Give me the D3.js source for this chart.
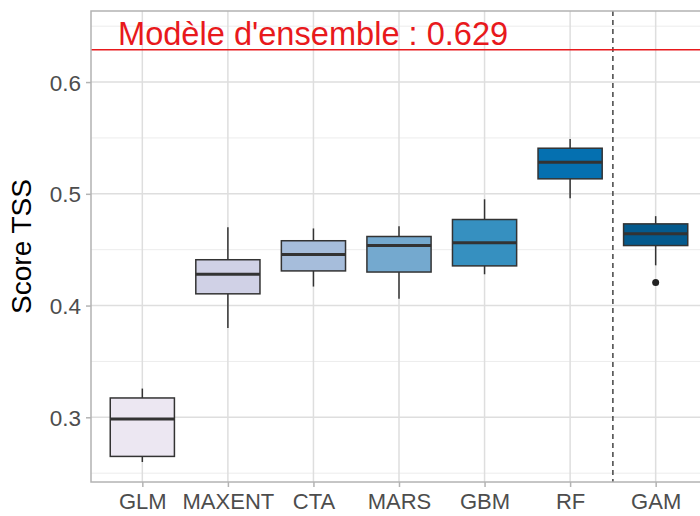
<!DOCTYPE html>
<html><head><meta charset="utf-8">
<script src="https://cdn.jsdelivr.net/npm/d3@7"></script>
<style>body{margin:0;background:#fff}svg{display:block}text{font-family:"Liberation Sans",Arial,sans-serif}</style>
</head><body><svg id="c" width="700" height="516"></svg>
<script>
const categories = ["GLM","MAXENT","CTA","MARS","GBM","RF","GAM"];
const whiskerLow  = [0.260,0.380,0.417,0.406,0.428,0.496,0.436];
const q1          = [0.265,0.4105,0.431,0.430,0.4355,0.5134,0.4537];
const medians     = [0.2985,0.428,0.4457,0.4537,0.4561,0.5283,0.4642];
const q3          = [0.3173,0.441,0.458,0.4618,0.477,0.5408,0.4731];
const whiskerHigh = [0.3257,0.470,0.469,0.471,0.4951,0.549,0.480];
const outliers    = [[],[],[],[],[],[],[0.4206]];
const fills = ["#ece7f2","#d0d1e6","#a6bddb","#74a9cf","#3690c0","#0570b0","#045a8d"];
const yTicks = [0.3,0.4,0.5,0.6];
const yMinor = [0.25,0.35,0.45,0.55,0.65];
const ensembleValue = 0.629;
const ensembleLabel = "Modèle d'ensemble : 0.629";
const separatorBetween = ["RF","GAM"];

const svg = d3.select("#c");
const L = 91, R = 707, T = 11, B = 482;
const x = d3.scalePoint().domain(categories).range([L,R]).padding(0.6);
const y = d3.scaleLinear().domain([0.2421,0.6636]).range([B,T]);
const step = x.step();
const bw = step*0.75;

const g = svg.append("g");
g.append("defs").append("clipPath").attr("id","clip").append("rect")
  .attr("x",L).attr("y",T).attr("width",R-L).attr("height",B-T);
const panel = g.append("g").attr("clip-path","url(#clip)");

panel.selectAll(".ymin").data(yMinor).join("line")
  .attr("x1",L).attr("x2",R).attr("y1",d=>y(d)).attr("y2",d=>y(d))
  .attr("stroke","#ececec").attr("stroke-width",1);
panel.selectAll(".ymaj").data(yTicks).join("line")
  .attr("x1",L).attr("x2",R).attr("y1",d=>y(d)).attr("y2",d=>y(d))
  .attr("stroke","#dedede").attr("stroke-width",1.5);
panel.selectAll(".xmaj").data(categories).join("line")
  .attr("x1",d=>x(d)).attr("x2",d=>x(d)).attr("y1",T).attr("y2",B)
  .attr("stroke","#dedede").attr("stroke-width",1.5);

const data = categories.map((c,i)=>({c,lo:whiskerLow[i],q1:q1[i],med:medians[i],q3:q3[i],hi:whiskerHigh[i],out:outliers[i],fill:fills[i]}));
const bx = panel.selectAll(".box").data(data).join("g");
bx.append("line").attr("x1",d=>x(d.c)).attr("x2",d=>x(d.c)).attr("y1",d=>y(d.hi)).attr("y2",d=>y(d.q3))
  .attr("stroke","#333").attr("stroke-width",1.5);
bx.append("line").attr("x1",d=>x(d.c)).attr("x2",d=>x(d.c)).attr("y1",d=>y(d.q1)).attr("y2",d=>y(d.lo))
  .attr("stroke","#333").attr("stroke-width",1.5);
bx.append("rect").attr("x",d=>x(d.c)-bw/2).attr("width",bw)
  .attr("y",d=>y(d.q3)).attr("height",d=>y(d.q1)-y(d.q3))
  .attr("fill",d=>d.fill).attr("stroke","#333").attr("stroke-width",1.5);
bx.append("line").attr("x1",d=>x(d.c)-bw/2).attr("x2",d=>x(d.c)+bw/2).attr("y1",d=>y(d.med)).attr("y2",d=>y(d.med))
  .attr("stroke","#333").attr("stroke-width",3);
bx.selectAll(".out").data(d=>d.out.map(v=>({c:d.c,v}))).join("circle")
  .attr("cx",d=>x(d.c)).attr("cy",d=>y(d.v)).attr("r",3.5).attr("fill","#222");

const sx = (x(separatorBetween[0])+x(separatorBetween[1]))/2;
panel.append("line").attr("x1",sx).attr("x2",sx).attr("y1",T).attr("y2",B)
  .attr("stroke","#444").attr("stroke-width",1.5).attr("stroke-dasharray","5,4");

panel.append("line").attr("x1",L).attr("x2",R).attr("y1",y(ensembleValue)).attr("y2",y(ensembleValue))
  .attr("stroke","#e8191c").attr("stroke-width",1.5);
g.append("text").attr("x",118).attr("y",y(ensembleValue)-5).attr("fill","#e8191c")
  .attr("font-size",32.6).text(ensembleLabel);

g.append("rect").attr("x",L).attr("y",T).attr("width",R-L).attr("height",B-T)
  .attr("fill","none").attr("stroke","#b3b3b3").attr("stroke-width",1.5);

const ya = d3.axisLeft(y).tickValues(yTicks).tickSize(5).tickPadding(5).tickFormat(d3.format(".1f"));
const yg = g.append("g").attr("transform",`translate(${L},0)`).call(ya);
const xa = d3.axisBottom(x).tickSize(5).tickPadding(6);
const xg = g.append("g").attr("transform",`translate(0,${B})`).call(xa);
[yg,xg].forEach(a=>{
  a.select(".domain").remove();
  a.selectAll(".tick line").attr("stroke","#b3b3b3").attr("stroke-width",1.5);
  a.selectAll(".tick text").attr("fill","#4d4d4d").attr("font-size",22).attr("font-family","Liberation Sans, Arial, sans-serif");
});
yg.selectAll(".tick text").attr("font-size",22.5).attr("dy","0.36em");

g.append("text").attr("transform",`translate(31,${(T+B)/2}) rotate(-90)`)
  .attr("text-anchor","middle").attr("font-size",28).attr("fill","#000").text("Score TSS");
</script></body></html>
